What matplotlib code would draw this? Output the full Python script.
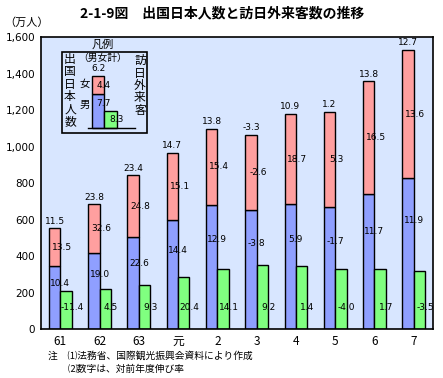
import matplotlib
matplotlib.use("Agg")
import matplotlib.pyplot as plt
from matplotlib.patches import Rectangle
import numpy as np

plt.rcParams['font.family'] = ['Noto Sans CJK JP', 'DejaVu Sans']

years = ["61", "62", "63", "元", "2", "3", "4", "5", "6", "7"]
# 出国日本人数 (万人)
out_total = [552, 683, 843, 966, 1099, 1063, 1179, 1193, 1358, 1530]
out_male = [347, 415, 502, 596, 679, 650, 683, 667, 743, 826]
# 訪日外来客数 (万人)
visitors = [206, 222, 239, 285, 328, 349, 344, 330, 330, 316]
# 対前年度伸び率 (%)
g_total = ["11.5", "23.8", "23.4", "14.7", "13.8", "-3.3", "10.9", "1.2", "13.8", "12.7"]
g_female = ["13.5", "32.6", "24.8", "15.1", "15.4", "-2.6", "18.7", "5.3", "16.5", "13.6"]
g_male = ["10.4", "19.0", "22.6", "14.4", "12.9", "-3.8", "5.9", "-1.7", "11.7", "11.9"]
g_visit = ["-11.4", "4.5", "9.3", "20.4", "14.1", "9.2", "1.4", "-4.0", "1.7", "-3.5"]
yticks = [0, 200, 400, 600, 800, 1000, 1200, 1400, 1600]

PINK = "#FF9F9F"
BLUE = "#8F9FFF"
GREEN = "#80FF80"
BG = "#D8E6FF"

W, H = 443, 378
fig = plt.figure(figsize=(W / 100, H / 100), dpi=100)
fig.patch.set_facecolor("white")

def fx(px):
    return px / W

def fy(py):
    return 1 - py / H

ax = fig.add_axes([fx(40.7), fy(329), fx(433.3) - fx(40.7), fy(37.3) - fy(329)])
ax.set_facecolor(BG)

x = np.arange(len(years))
male = np.array(out_male)
total = np.array(out_total)
female = total - male
bw = 0.29

ax.bar(x, male, width=-bw, align="edge", color=BLUE, edgecolor="black", linewidth=1, zorder=2)
ax.bar(x, female, width=-bw, bottom=male, align="edge", color=PINK, edgecolor="black", linewidth=1, zorder=2)
ax.bar(x, visitors, width=bw, align="edge", color=GREEN, edgecolor="black", linewidth=1, zorder=2)

fs = 6.5
for i in range(len(years)):
    ax.annotate(g_total[i], (x[i] - bw / 2, total[i]), xytext=(0, 2), textcoords="offset points",
                ha="center", va="bottom", fontsize=fs, family="DejaVu Sans", zorder=3)
    ax.text(x[i] + 0.04, male[i] + female[i] / 2, g_female[i], ha="center", va="center",
            fontsize=fs, family="DejaVu Sans", zorder=3)
    ax.text(x[i], male[i] * 0.72, g_male[i], ha="center", va="center",
            fontsize=fs, family="DejaVu Sans", zorder=3)
    ax.text(x[i] + bw, 120, g_visit[i], ha="center", va="center",
            fontsize=fs, family="DejaVu Sans", zorder=3)

ax.set_xlim(-0.5, len(years) - 0.5)
ax.set_ylim(0, 1600)
ax.set_yticks(yticks)
ax.set_yticklabels([f"{v:,}" for v in yticks], family="DejaVu Sans", fontsize=7.5)
ax.set_xticks(x)
ax.set_xticklabels(years, fontsize=8.5)
ax.tick_params(axis="both", length=0, pad=4)
for s in ax.spines.values():
    s.set_linewidth(1.2)
    s.set_color("black")

# Title and unit
fig.text(fx(222), fy(13), "2-1-9図　出国日本人数と訪日外来客数の推移", ha="center", va="center",
         fontsize=10, fontweight="bold")
fig.text(fx(4), fy(23), "（万人）", ha="left", va="center", fontsize=8)

# Inset legend
fig.text(fx(103), fy(44), "凡例", ha="center", va="center", fontsize=8)
fig.add_artist(Rectangle((fx(62.3), fy(133.3)), fx(147.3) - fx(62.3), fy(51.7) - fy(133.3),
                         transform=fig.transFigure, facecolor="none", edgecolor="black", linewidth=1.2))
fig.text(fx(103), fy(58), "（男女計）", ha="center", va="center", fontsize=7)
fig.text(fx(99), fy(68.5), "6.2", ha="center", va="center", fontsize=fs, family="DejaVu Sans")
fig.add_artist(plt.Line2D([fx(88), fx(135)], [fy(127.7), fy(127.7)], transform=fig.transFigure,
                          color="black", linewidth=1))
fig.add_artist(Rectangle((fx(92.3), fy(127.7)), fx(104.3) - fx(92.3), fy(93.7) - fy(127.7),
                         transform=fig.transFigure, facecolor=BLUE, edgecolor="black", linewidth=1))
fig.add_artist(Rectangle((fx(92.3), fy(93.7)), fx(104.3) - fx(92.3), fy(75.7) - fy(93.7),
                         transform=fig.transFigure, facecolor=PINK, edgecolor="black", linewidth=1))
fig.add_artist(Rectangle((fx(104.3), fy(127.7)), fx(116.7) - fx(104.3), fy(111) - fy(127.7),
                         transform=fig.transFigure, facecolor=GREEN, edgecolor="black", linewidth=1))
fig.text(fx(103.5), fy(85), "4.4", ha="center", va="center", fontsize=fs, family="DejaVu Sans")
fig.text(fx(103.5), fy(103), "7.7", ha="center", va="center", fontsize=fs, family="DejaVu Sans")
fig.text(fx(117), fy(120), "8.3", ha="center", va="center", fontsize=fs, family="DejaVu Sans")
fig.text(fx(85), fy(84), "女", ha="center", va="center", fontsize=7.5)
fig.text(fx(85), fy(105), "男", ha="center", va="center", fontsize=7.5)
fig.text(fx(70), fy(90.5), "\n".join("出国日本人数"), ha="center", va="center", fontsize=8.5,
         linespacing=0.95)
fig.text(fx(140), fy(85.5), "\n".join("訪日外来客"), ha="center", va="center", fontsize=8.5,
         linespacing=0.95)

# Notes
fig.text(fx(48), fy(356), "注　⑴法務省、国際観光振興会資料により作成", ha="left", va="center", fontsize=7)
fig.text(fx(68), fy(368.5), "⑵数字は、対前年度伸び率", ha="left", va="center", fontsize=7)

fig.savefig("out.png", dpi=100, facecolor="white")
